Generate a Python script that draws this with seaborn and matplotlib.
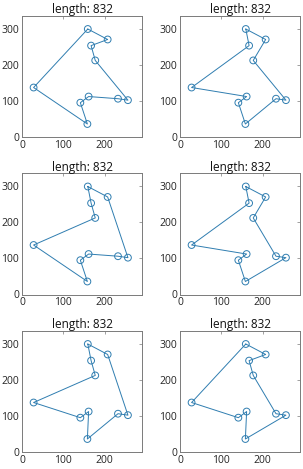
import numpy as np
import pandas as pd
import matplotlib
matplotlib.use("Agg")
import matplotlib.pyplot as plt
import seaborn as sns

# === City coordinates ===
city_x = [159, 207, 167, 177, 256, 232, 161, 141, 158, 28]
city_y = [299, 270, 253, 212, 102, 106, 112, 95, 36, 137]

# === Tours shown in each panel (order of city indices) ===
tours = [
    [0, 1, 2, 3, 4, 5, 6, 7, 8, 9],
    [0, 1, 3, 4, 5, 8, 7, 6, 9, 2],
    [0, 1, 4, 5, 6, 7, 8, 9, 3, 2],
    [0, 1, 3, 5, 4, 8, 7, 6, 9, 2],
    [0, 1, 4, 5, 8, 6, 7, 9, 3, 2],
    [0, 1, 2, 3, 5, 4, 8, 6, 7, 9],
]
tour_lengths = [832, 832, 832, 832, 832, 832]

x_ticks = [0, 100, 200]
y_ticks = [0, 100, 200, 300]

sns.set_style("white")
plt.rcParams["font.family"] = ["Open Sans", "DejaVu Sans"]

line_color = "#2f7db0"
spine_color = "#7a7a7a"

fig = plt.figure(figsize=(3.03, 4.69), dpi=100)
W, H = 303, 469
lefts = [22, 180]
tops = [16, 173.5, 331]
aw, ah = 120, 121

cities = pd.DataFrame({"x": city_x, "y": city_y})

for k, tour in enumerate(tours):
    row, col = divmod(k, 2)
    ax = fig.add_axes([lefts[col] / W, 1 - (tops[row] + ah) / H, aw / W, ah / H])
    order = tour + [tour[0]]
    df = pd.DataFrame({
        "x": [city_x[i] for i in order],
        "y": [city_y[i] for i in order],
    })
    sns.lineplot(data=df, x="x", y="y", sort=False, estimator=None, ax=ax,
                 color=line_color, linewidth=0.7)
    sns.scatterplot(data=cities, x="x", y="y", ax=ax, s=24, marker="o",
                    facecolor="none", edgecolor=line_color, linewidth=0.7)
    ax.set_xlim(0, 290)
    ax.set_ylim(0, 335)
    ax.set_xticks(x_ticks)
    ax.set_yticks(y_ticks)
    ax.set_xlabel("")
    ax.set_ylabel("")
    ax.set_title(f"length: {tour_lengths[k]}", fontsize=8.5, pad=2, color="#111111")
    ax.tick_params(direction="in", length=2, width=0.5, colors=spine_color,
                   labelcolor="#262626", labelsize=7.5, pad=2,
                   top=True, right=True)
    for s in ax.spines.values():
        s.set_color(spine_color)
        s.set_linewidth(0.7)

fig.savefig("out.png", dpi=100)
